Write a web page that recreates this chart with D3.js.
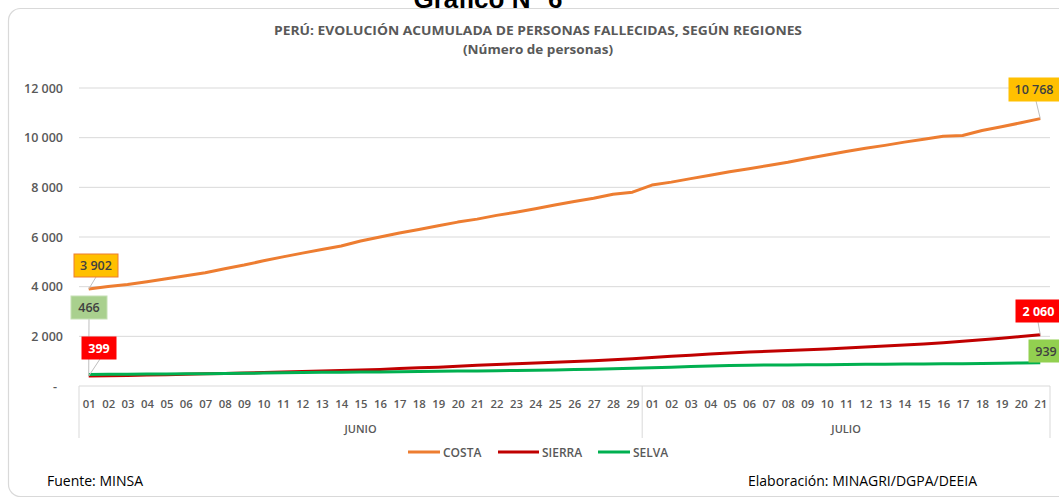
<!DOCTYPE html>
<html>
<head>
<meta charset="utf-8">
<script src="https://cdn.jsdelivr.net/npm/d3@7"></script>
<style>
  body { margin: 0; background: #fff; }
  svg { display: block; font-family: "Open Sans", "Noto Sans", sans-serif; }
</style>
</head>
<body>
<div id="chart"></div>
<script>
// categories: days of June and July
const junioDays = ["01","02","03","04","05","06","07","08","09","10","11","12","13","14","15","16","17","18","19","20","21","22","23","24","25","26","27","28","29"];
const julioDays = ["01","02","03","04","05","06","07","08","09","10","11","12","13","14","15","16","17","18","19","20","21"];
const months = ["JUNIO", "JULIO"];

const costa = [3902,4010,4090,4200,4320,4440,4560,4720,4870,5040,5200,5350,5500,5640,5840,6000,6160,6300,6450,6600,6720,6870,7000,7140,7290,7430,7560,7720,7806,
  8090,8210,8350,8490,8630,8750,8880,9010,9160,9300,9440,9570,9690,9820,9940,10060,10090,10290,10440,10600,10768];
const sierra = [399,410,425,440,455,470,490,505,525,545,565,585,605,625,645,665,700,730,760,800,840,870,900,930,960,990,1020,1060,1100,
  1150,1195,1240,1290,1330,1370,1400,1430,1460,1490,1530,1570,1610,1650,1690,1740,1800,1860,1920,1990,2060];
const selva = [466,470,475,480,485,490,495,500,510,520,530,540,550,555,560,565,575,585,595,600,605,615,625,635,645,660,675,690,710,
  730,760,790,810,825,835,845,850,855,860,870,875,880,885,890,895,900,910,920,930,939];

const seriesNames = ["COSTA", "SIERRA", "SELVA"];
const seriesColors = ["#ED7D31", "#C00000", "#00B050"];
const yTicks = [0, 2000, 4000, 6000, 8000, 10000, 12000];

const W = 1059, H = 501;
const keys = [...junioDays.map(d => "jun-" + d), ...julioDays.map(d => "jul-" + d)];
const series = [costa, sierra, selva];

const svg = d3.select("#chart").append("svg").attr("width", W).attr("height", H);

// outer frame
svg.append("rect").attr("x", 8.5).attr("y", 8.5).attr("width", W + 20).attr("height", 488)
  .attr("rx", 12).attr("fill", "#fff").attr("stroke", "#d9d9d9").attr("stroke-width", 1.2);

// page heading, mostly hidden above the frame (as in the source)
svg.append("text").attr("x", 488).attr("y", 8).attr("text-anchor", "middle")
  .attr("font-family", "Liberation Sans, Arial, sans-serif").attr("font-weight", "bold")
  .attr("font-size", 26).attr("fill", "#000").text("Gráfico N° 6");

// titles
svg.append("text").attr("x", 538).attr("y", 35).attr("text-anchor", "middle")
  .attr("font-size", 12.5).attr("font-weight", "bold").attr("fill", "#595959")
  .attr("textLength", 528).attr("lengthAdjust", "spacingAndGlyphs")
  .text("PERÚ: EVOLUCIÓN ACUMULADA DE PERSONAS FALLECIDAS, SEGÚN REGIONES");
svg.append("text").attr("x", 538).attr("y", 54).attr("text-anchor", "middle")
  .attr("font-size", 12.5).attr("font-weight", "bold").attr("fill", "#595959")
  .attr("textLength", 150).attr("lengthAdjust", "spacingAndGlyphs")
  .text("(Número de personas)");

const x = d3.scalePoint().domain(keys).range([79, 1050]).padding(0.5);
const y = d3.scaleLinear().domain([0, 12000]).range([386, 88]);

// gridlines
svg.append("g").selectAll("line").data(yTicks.filter(d => d > 0)).join("line")
  .attr("x1", 79).attr("x2", 1050)
  .attr("y1", d => y(d)).attr("y2", d => y(d))
  .attr("stroke", "#d9d9d9").attr("stroke-width", 1);

// y axis labels
const fmt = d => d === 0 ? "-" : d3.format(",")(d).replace(",", " ");
const yAxis = svg.append("g").attr("transform", "translate(63,0)")
  .call(d3.axisLeft(y).tickValues(yTicks).tickSize(0).tickPadding(0).tickFormat(fmt));
yAxis.select(".domain").remove();
yAxis.selectAll("text").attr("font-size", 12.5).attr("font-weight", "600").attr("fill", "#595959")
  .attr("font-family", "Open Sans, sans-serif")
  .attr("dx", d => d === 0 ? -6 : 0);

// x axis box
const axisG = svg.append("g").attr("stroke", "#d9d9d9").attr("stroke-width", 1);
const sep = (x("jun-29") + x("jul-01")) / 2;
axisG.append("line").attr("x1", 79).attr("x2", 1050).attr("y1", y(0)).attr("y2", y(0));
[79, sep, 1050].forEach(v => {
  axisG.append("line").attr("x1", v).attr("x2", v).attr("y1", y(0)).attr("y2", 438);
});

const xAxis = svg.append("g").attr("transform", `translate(0,${y(0) + 12})`)
  .call(d3.axisBottom(x).tickSize(0).tickFormat(k => k.slice(4)));
xAxis.select(".domain").remove();
xAxis.selectAll("text").attr("font-size", 10.5).attr("font-weight", "600").attr("fill", "#595959")
  .attr("font-family", "Open Sans, sans-serif").attr("textLength", 13).attr("lengthAdjust", "spacingAndGlyphs");

// month labels
const monthCenters = [(79 + sep) / 2, (sep + 1050) / 2];
svg.append("g").selectAll("text").data(months).join("text")
  .attr("x", (d, i) => monthCenters[i]).attr("y", 433).attr("text-anchor", "middle")
  .attr("font-size", 11).attr("font-weight", "600").attr("fill", "#595959").text(d => d);

// lines
const line = d3.line().x((d, i) => x(keys[i])).y(d => y(d));
svg.append("g").selectAll("path").data(series).join("path")
  .attr("d", line).attr("fill", "none")
  .attr("stroke", (d, i) => seriesColors[i]).attr("stroke-width", 3)
  .attr("stroke-linejoin", "round");

// data labels (first and last points)
const labels = [
  { s: 0, i: 0, fill: "#FFC000", stroke: "#ED7D31", color: "#404040", bx: 74, by: 254, bw: 44, bh: 23, ax: 96 },
  { s: 2, i: 0, fill: "#A9D08E", stroke: "#C5E0B4", color: "#404040", bx: 71, by: 296, bw: 36, bh: 23, ax: 89 },
  { s: 1, i: 0, fill: "#FF0000", stroke: "#FF0000", color: "#fff", bx: 82, by: 337, bw: 34, bh: 22, ax: 100 },
  { s: 0, i: 49, fill: "#FFC000", stroke: "#FFC000", color: "#404040", bx: 1009, by: 78, bw: 50, bh: 23, ax: 1036 },
  { s: 1, i: 49, fill: "#FF0000", stroke: "#FF0000", color: "#fff", bx: 1016, by: 300, bw: 45, bh: 22, ax: 1038 },
  { s: 2, i: 49, fill: "#92D050", stroke: "#92D050", color: "#404040", bx: 1029, by: 340, bw: 34, bh: 22, ax: null },
];
const lg = svg.append("g");
labels.forEach(l => {
  const v = series[l.s][l.i];
  const px = x(keys[l.i]), py = y(v);
  if (l.ax !== null) {
    lg.append("line").attr("x1", l.ax).attr("y1", l.by + l.bh).attr("x2", px).attr("y2", py)
      .attr("stroke", "#bfbfbf").attr("stroke-width", 1);
  }
  lg.append("rect").attr("x", l.bx).attr("y", l.by).attr("width", l.bw).attr("height", l.bh)
    .attr("fill", l.fill).attr("stroke", l.stroke).attr("stroke-width", 1);
  lg.append("text").attr("x", l.bx + l.bw / 2).attr("y", l.by + l.bh / 2 + 4.5)
    .attr("text-anchor", "middle").attr("font-size", 12.5)
    .attr("font-weight", l.color === "#fff" ? "bold" : "600").attr("fill", l.color)
    .text(fmt(v));
});

// legend
const legendLines = [[408, 440], [498, 539], [598, 630]];
const leg = svg.append("g");
seriesNames.forEach((n, i) => {
  const [a, b] = legendLines[i];
  leg.append("line").attr("x1", a).attr("x2", b).attr("y1", 452).attr("y2", 452)
    .attr("stroke", seriesColors[i]).attr("stroke-width", 3);
  leg.append("text").attr("x", b + 3).attr("y", 456.5)
    .attr("font-size", 12).attr("font-weight", "600").attr("fill", "#595959").text(n);
});

// source notes
svg.append("text").attr("x", 47).attr("y", 486).attr("font-size", 14).attr("fill", "#000")
  .attr("font-family", "Open Sans, sans-serif").text("Fuente: MINSA");
svg.append("text").attr("x", 748).attr("y", 486).attr("font-size", 14).attr("fill", "#000")
  .attr("font-family", "Open Sans, sans-serif").text("Elaboración: MINAGRI/DGPA/DEEIA");
</script>
</body>
</html>
